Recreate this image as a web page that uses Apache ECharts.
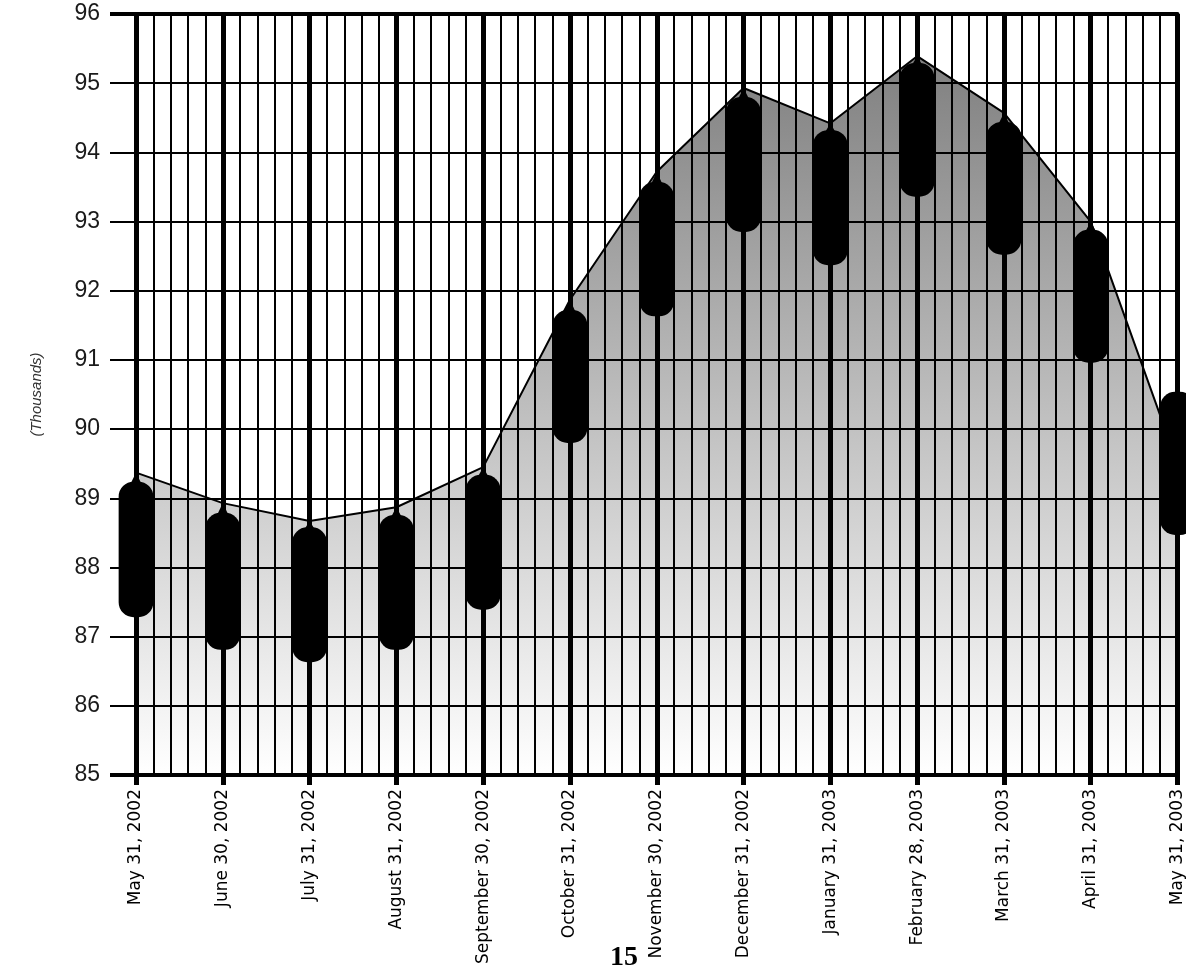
<!DOCTYPE html>
<html>
<head>
<meta charset="utf-8">
<script src="https://cdn.jsdelivr.net/npm/echarts@6/dist/echarts.min.js"></script>
<style>
  html, body { margin: 0; padding: 0; background: #ffffff; }
  #chart { width: 1186px; height: 975px; }
</style>
</head>
<body>
<div id="chart"></div>
<script>
// ---- data ----
const categories = [
  'May 31, 2002', 'June 30, 2002', 'July 31, 2002', 'August 31, 2002',
  'September 30, 2002', 'October 31, 2002', 'November 30, 2002', 'December 31, 2002',
  'January 31, 2003', 'February 28, 2003', 'March 31, 2003', 'April 31, 2003', 'May 31, 2003'
];
// area line (vertex values)
const lineValues = [89.37, 88.93, 88.67, 88.87, 89.45, 91.87, 93.72, 94.93, 94.42, 95.39, 94.57, 93.00, 89.50];
// capsule bodies: top and bottom values
const bodyTop    = [89.24, 88.79, 88.58, 88.76, 89.34, 91.72, 93.57, 94.80, 94.32, 95.29, 94.44, 92.88, 90.54];
const bodyBottom = [87.28, 86.81, 86.63, 86.81, 87.39, 89.80, 91.63, 92.85, 92.37, 93.36, 92.52, 90.96, 88.47];
const yMin = 85, yMax = 96;
const pageNumber = '15';

const chart = echarts.init(document.getElementById('chart'), null, { renderer: 'canvas' });

const candleData = categories.map((c, i) => [i, bodyTop[i], bodyBottom[i], lineValues[i]]);

function renderCapsule(params, api) {
  const x = api.value(0);
  const pTop = api.coord([x, api.value(1)]);
  const pBot = api.coord([x, api.value(2)]);
  const pHi = api.coord([x, api.value(3)]);
  const w = api.size([1, 0])[0] * 0.4;
  const children = [{
    type: 'rect',
    shape: { x: pTop[0] - w / 2, y: pTop[1], width: w, height: pBot[1] - pTop[1], r: 15 },
    style: { fill: '#000' }
  }];
  if (pHi[1] < pTop[1]) {
    children.push({
      type: 'polygon',
      shape: { points: [[pTop[0] - 7, pTop[1] + 5], [pHi[0], pHi[1]], [pTop[0] + 7, pTop[1] + 5]] },
      style: { fill: '#000' }
    });
  }
  return { type: 'group', children: children };
}

const option = {
  animation: false,
  backgroundColor: '#ffffff',
  grid: { left: 136, right: 3, top: 14, bottom: 200, containLabel: false },
  xAxis: [
    {
      type: 'value', min: 0, max: categories.length - 1, interval: 1, position: 'bottom', z: 3,
      axisLine: { show: true, onZero: false, lineStyle: { color: '#000', width: 4 } },
      axisTick: { show: true, length: 10, lineStyle: { color: '#000', width: 5 } },
      minorTick: { show: false, splitNumber: 5 },
      splitLine: { show: true, lineStyle: { color: '#000', width: 5 } },
      minorSplitLine: { show: true, lineStyle: { color: '#000', width: 2 } },
      axisLabel: {
        rotate: 90, margin: 14, fontSize: 17, fontFamily: "'DejaVu Sans', sans-serif", color: '#000',
        showMinLabel: true, showMaxLabel: true,
        formatter: v => categories[Math.round(v)] || ''
      }
    },
    {
      type: 'value', min: 0, max: categories.length - 1, position: 'top', z: 3,
      axisLine: { show: true, lineStyle: { color: '#000', width: 4 } },
      axisTick: { show: false }, axisLabel: { show: false }, splitLine: { show: false }
    }
  ],
  yAxis: [
    {
      type: 'value', min: yMin, max: yMax, interval: 1, z: 3,
      name: '(Thousands)', nameLocation: 'middle', nameGap: 92, nameRotate: 90,
      nameTextStyle: { fontStyle: 'italic', fontSize: 15, color: '#333', fontFamily: "'Liberation Sans', Arial, sans-serif" },
      axisLine: { show: false },
      axisTick: { show: true, length: 26, lineStyle: { color: '#000', width: 2 } },
      splitLine: { show: true, lineStyle: { color: '#000', width: 2 } },
      axisLabel: {
        margin: 36, fontSize: 23, color: '#1a1a1a',
        fontFamily: "'Liberation Sans Narrow', 'Arial Narrow', 'Liberation Sans', sans-serif"
      }
    },
    {
      type: 'value', min: yMin, max: yMax, interval: yMax - yMin, position: 'left', z: 3,
      axisLine: { show: false },
      axisTick: { show: true, length: 26, lineStyle: { color: '#000', width: 4 } },
      axisLabel: { show: false }, splitLine: { show: false }
    }
  ],
  series: [
    {
      type: 'line', xAxisIndex: 0, yAxisIndex: 0, z: 1,
      data: lineValues.map((v, i) => [i, v]),
      symbol: 'none',
      lineStyle: { color: '#000', width: 2 },
      areaStyle: {
        origin: 'start', opacity: 1,
        color: new echarts.graphic.LinearGradient(0, 0, 0, 1, [
          { offset: 0, color: '#808080' },
          { offset: 1, color: '#ffffff' }
        ])
      }
    },
    {
      type: 'custom', xAxisIndex: 0, yAxisIndex: 0, z: 5, clip: false,
      data: candleData,
      encode: { x: 0, y: [1, 2, 3] },
      renderItem: renderCapsule
    }
  ],
  graphic: [
    {
      type: 'text', left: 610, top: 944, z: 10,
      style: { text: pageNumber, fill: '#000', font: "bold 28px 'Liberation Serif', 'Times New Roman', serif" }
    }
  ]
};

chart.setOption(option);
</script>
</body>
</html>
